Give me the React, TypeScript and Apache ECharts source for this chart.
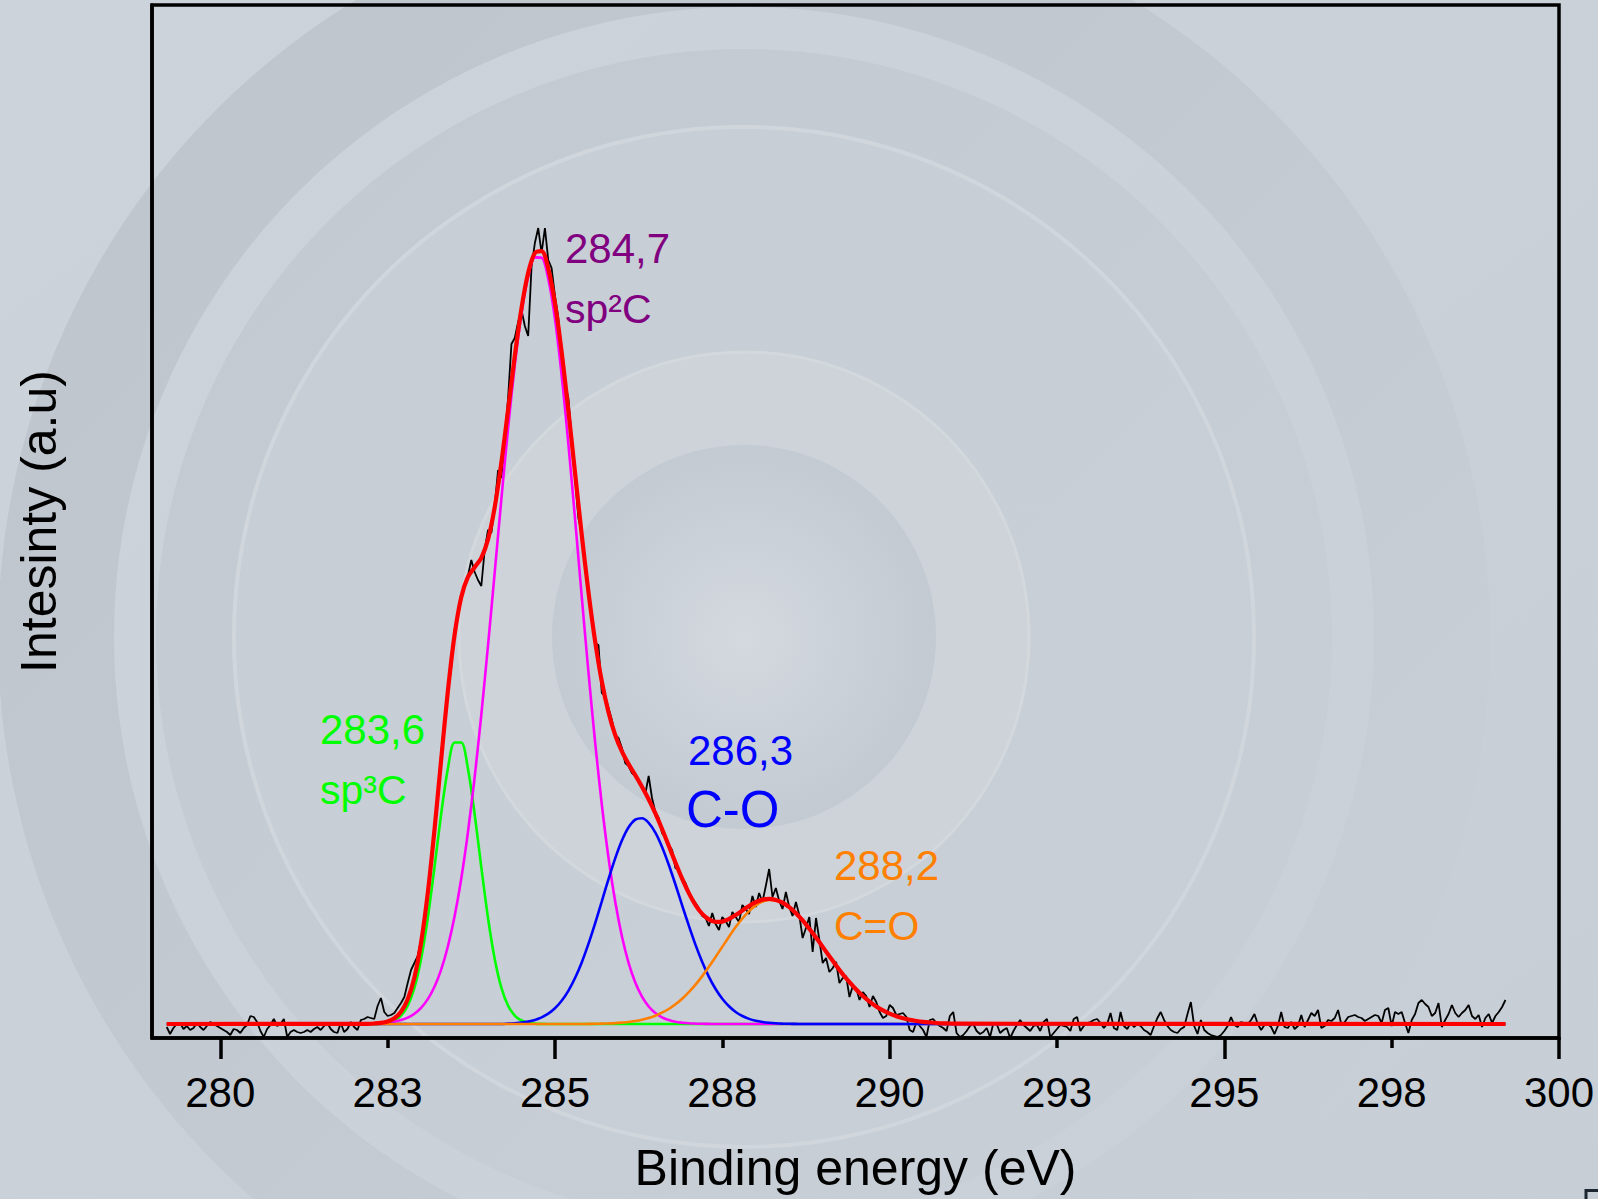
import React, { useEffect, useRef } from 'react';
import * as echarts from 'echarts';

// ---------- data ----------
const RAW_START = 279.2;
const RAW_STEP = 0.05;
const rawIntensity = [
  11,4,10,14,15,9,12,8,10,15, 11,8,12,16,14,12,10,8,6,3,
  9,8,5,10,13,22,21,16,7,1, 9,13,19,12,14,19,1,6,8,6,
  5,6,8,6,9,11,8,12,15,9, 6,5,15,6,9,16,11,8,18,19,
  21,20,19,32,40,26,22,23,25,30, 35,41,55,68,75,82,
  98,118,142,178,210,238,285,318,345,370, 408,425,440,452,462,478,466,458,452,488,
  508,505,532,568,560,600,640,694,700,716, 728,712,702,771,795,810,785,810,778,770,
  742,720,683,655,640,600,560,520,505,470, 445,418,395,393,345,342,330,318,303,300,
  290,275,272,265,262,258,250,244,262,240, 226,220,205,200,193,188,170,168,160,155,
  146,140,135,130,122,120,112,125,114,108, 121,117,111,126,121,116,133,129,124,142,
  131,145,136,152,169,141,150,137,129,146, 131,122,136,
  123,100,110,121,86,120,98,75,80,66, 70,76,55,60,62,41,52,50,38,46,
  42,31,42,36,26,20,22,33,30,23, 24,25,21,8,6,16,12,8,1,18,
  19,15,12,10,7,22,26,5,1,3, 7,12,14,7,4,6,10,1,15,14,
  5,8,10,0,7,13,18,13,10,7, 12,13,7,16,19,1,5,9,13,12,
  11,7,19,21,7,12,15,16,18,19,
  15,10,14,25,10,8,26,12,9,15, 11,14,12,8,6,3,12,20,26,18,
  12,8,6,5,9,11,24,36,12,4, 18,8,5,3,2,1,3,7,12,21,
  13,11,16,15,14,18,24,14,8,13, 14,11,4,12,26,11,10,16,9,12,
  23,11,18,25,22,28,10,12,18,17, 20,28,13,16,21,22,23,21,20,17,
  19,21,23,22,15,28,30,12,26,24, 26,15,5,18,24,35,38,34,31,22,
  25,35,11,18,24,33,25,21,25,28, 33,22,19,23,11,20,24,15,22,26,
  31,38
];

const FIT_START = 282.0;
const FIT_STEP = 0.1;
const FIT_EDGES = [279.2, 299.2];
const BASELINE = 14;

const fitSp3 = [
  14,14,14,14.1,14.4,15.3,17.5,22.4,32.3,50.2,
  79.1,120,170.7,224,269.3,295.5,295.5,269.3,224,170.7,
  120,79.1,50.2,32.3,22.4,17.5,15.3,14.4,14.1,14,
  14,14,14,14,14,14,14,14,14,14, 14,14,14,14,14,14,14,14,14,14,
  14,14,14,14,14,14,14,14,14,14, 14,14,14,14,14,14,14,14,14,14,
  14,14,14,14,14,14,14,14,14,14, 14,14,14,14,14,14,14,14,14,14,
  14
];
const fitSp2 = [
  14.1,14.1,14.2,14.4,14.7,15.3,16.3,17.9,20.4,24.3,
  30.2,38.9,51.3,68.4,91.5,121.4,159.3,205.8,260.7,323.5,
  392.6,465.6,539.3,609.8,673,724.8,761.5,780.6,780.3,759.3,
  719.1,662.7,594.4,519.3,441.6,366.1,295.9,233.5,180.3,136.5,
  101.8,75.2,55.5,41.3,31.5,24.9,20.6,17.9,16.2,15.3,
  14.7,14.4,14.2,14.1,14,14,14,14,14,14,
  14,14,14,14,14,14,14,14,14,14, 14,14,14,14,14,14,14,14,14,14,
  14,14,14,14,14,14,14,14,14,14, 14
];
const fitCO = [
  14,14,14,14,14,14,14,14,14,14, 14,14,14,14,14,14,14,14,14,14, 14,14,14,
  14.4,14.8,15.4,16.4,18,20.6,24.3,
  29.7,37.2,47.2,60,75.6,94.1,114.7,136.7,158.9,179.6,
  197.4,210.7,218.4,219.7,215.2,205.4,191.1,173.3,153.5,132.7,
  112.3,93.1,76,61.2,49,39.2,31.7,26,22,19.1,
  17.2,16,15.2,14.7,14.4,14.2,14.1,
  14,14,14,14,14,14,14,14,14,14, 14,14,14,14,14,14,14,14,14,14, 14,14,14,14
];
const fitCdO = [
  14,14,14,14,14,14,14,14,14,14, 14,14,14,14,14,14,14,14,14,14,
  14,14,14,14,14,14,14,14,14,14, 14,14,14,14,14,
  14.1,14.2,14.4,14.6,14.9,
  15.4,16,17,18.3,20,22.3,25.3,29,33.7,39.3,
  45.9,53.4,61.9,71.3,81.1,91.2,101.3,110.9,119.5,126.9,
  132.6,136.4,138,137.4,134.9,130.6,124.8,117.6,109.3,100.4,
  91.1,81.7,72.6,63.8,55.8,48.5,42,36.4,31.6,27.7,
  24.4,21.8,19.8,18.2,17,16.1,15.5,15,14.7,14.5,
  14.3
];
const fitEnvelope = [
  14.1,14.1,14.2,14.5,15.1,16.6,19.8,26.3,38.7,60.5,
  95.3,144.9,208,278.4,346.8,402.9,440.8,461.1,470.7,480.2,
  498.6,530.8,575.6,628.5,682.2,729.7,765.2,785,786.9,769.6,
  734.8,685.9,627.6,565.3,503.2,446.3,396.8,356.5,325.8,303,
  286.6,273.9,262.9,251.3,238.7,224.6,209,192.2,175.4,159.3,
  144.9,132.9,124.1,118.6,116.1,116.4,119,122.9,127.5,132,
  135.8,138.4,139.2,138.1,135.3,130.8,124.8,117.6,109.3,100.4,
  91.1,81.7,72.6,63.8,55.8,48.5,42,36.4,31.6,27.7,
  24.4,21.8,19.8,18.2,17,16.1,15.5,15,14.7,14.5,
  14.3
];

const TICK_VALUES = [280, 282.5, 285, 287.5, 290, 292.5, 295, 297.5, 300];
const TICK_LABELS = ['280', '283', '285', '288', '290', '293', '295', '298', '300'];
const MAJOR_TICKS = [280, 285, 290, 295, 300];
const MINOR_TICKS = [282.5, 287.5, 292.5, 297.5];

const PEAK_LABELS = [
  { lines: ['283,6', 'sp³C'], color: '#00ff00' },
  { lines: ['284,7', 'sp²C'], color: '#800080' },
  { lines: ['286,3', 'C-O'], color: '#0000ff' },
  { lines: ['288,2', 'C=O'], color: '#ff8000' },
];

// ---------- layout ----------
const W = 1598;
const H = 1199;
const FONT = '"Liberation Sans", Arial, Helvetica, sans-serif';
const LABEL_POS = [
  [[320, 729, 42], [320, 790, 41]],
  [[565, 248, 42], [565, 309, 41]],
  [[688, 750, 42], [686, 809, 51]],
  [[834, 865, 42], [834, 926, 41]],
];

function fitSeriesData(values: number[]) {
  const pts: number[][] = [[FIT_EDGES[0], BASELINE]];
  values.forEach((v, i) => pts.push([Math.round((FIT_START + i * FIT_STEP) * 100) / 100, v]));
  pts.push([FIT_EDGES[1], BASELINE]);
  return pts;
}

function buildOption() {
  const rawData = rawIntensity.map((v, i) => [Math.round((RAW_START + i * RAW_STEP) * 100) / 100, v]);
  const cx = 744, cy = 637;
  const lg = (stops: [number, string][]) =>
    new echarts.graphic.LinearGradient(0, 0, 1, 1, stops.map(([offset, color]) => ({ offset, color })));
  const bg: any[] = [
    { type: 'rect', shape: { x: 0, y: 0, width: W, height: H }, style: { fill: lg([[0, '#ccd3da'], [1, '#c7ced5']]) } },
    { type: 'circle', shape: { cx, cy, r: 746 }, style: { fill: lg([[0, '#bdc4cc'], [0.45, '#c2c9d1'], [0.8, '#c7ced5'], [1, '#c9d0d7']]) } },
    { type: 'circle', shape: { cx, cy, r: 630 }, style: { fill: lg([[0, '#ccd3da'], [1, '#c9d0d7']]) } },
    { type: 'circle', shape: { cx, cy, r: 588 }, style: { fill: lg([[0, '#c2c9d1'], [0.6, '#c6cdd4'], [1, '#c8cfd6']]) } },
    { type: 'circle', shape: { cx, cy, r: 510 }, style: { fill: lg([[0, '#c7ced5'], [1, '#c8cfd6']]), stroke: '#d0d6dc', lineWidth: 4 } },
    { type: 'circle', shape: { cx, cy, r: 285 }, style: { fill: '#cdd3d9', stroke: '#d3d8dd', lineWidth: 3 } },
    {
      type: 'circle', shape: { cx, cy, r: 192 },
      style: {
        fill: new echarts.graphic.RadialGradient(0.5, 0.5, 0.5, [
          { offset: 0, color: '#d4d9df' },
          { offset: 1, color: '#c3cad2' },
        ]),
      },
    },
  ].map((e) => ({ ...e, z: -10, silent: true }));

  const texts: any[] = [];
  PEAK_LABELS.forEach((p, k) => {
    p.lines.forEach((t, j) => {
      const [x, y, fs] = LABEL_POS[k][j];
      texts.push({
        type: 'text', x, y, z: 20, silent: true,
        style: { text: t, fill: p.color, fontSize: fs, fontFamily: FONT, align: 'left', verticalAlign: 'middle' },
      });
    });
  });
  texts.push({
    type: 'polyline', z: 20, silent: true,
    shape: { points: [[1586, 1199], [1586, 1190.5], [1598, 1190.5]] },
    style: { stroke: '#1c2630', lineWidth: 3, fill: 'none' },
  });

  const labelFor = (v: number) => {
    const idx = TICK_VALUES.findIndex((t) => Math.abs(t - v) < 1e-6);
    return idx >= 0 ? TICK_LABELS[idx] : '';
  };

  const comp = (name: string, values: number[], color: string, width: number) => ({
    name, type: 'line', data: fitSeriesData(values), showSymbol: false, smooth: 0.3,
    lineStyle: { color, width }, emphasis: { disabled: true }, silent: true,
  });

  return {
    animation: false,
    backgroundColor: 'transparent',
    graphic: [...bg, ...texts],
    grid: {
      left: 152, right: 39, top: 5, bottom: 161,
      show: true, borderColor: '#000', borderWidth: 3.5, backgroundColor: 'transparent', containLabel: false,
    },
    xAxis: [
      {
        type: 'value', min: 278.98, max: 300, position: 'bottom',
        axisLine: { show: true, onZero: false, lineStyle: { color: '#000', width: 3.5 } },
        axisTick: { show: true, customValues: MAJOR_TICKS, length: 21, inside: false, lineStyle: { color: '#000', width: 3.5 } },
        axisLabel: {
          show: true, customValues: TICK_VALUES, formatter: labelFor, margin: 33,
          fontSize: 42, color: '#000', fontFamily: FONT,
        },
        splitLine: { show: false },
        name: 'Binding energy (eV)', nameLocation: 'middle', nameGap: 105,
        nameTextStyle: { fontSize: 50, color: '#000', fontFamily: FONT },
      },
      {
        type: 'value', min: 278.98, max: 300, position: 'bottom',
        axisLine: { show: false },
        axisTick: { show: true, customValues: MINOR_TICKS, length: 10, inside: false, lineStyle: { color: '#000', width: 3.5 } },
        axisLabel: { show: false },
        splitLine: { show: false },
      },
    ],
    yAxis: {
      type: 'value', min: 0, max: 1033,
      axisLine: { show: true, onZero: false, lineStyle: { color: '#000', width: 3.5 } },
      axisTick: { show: false }, axisLabel: { show: false }, splitLine: { show: false },
      name: 'Intesinty (a.u)', nameLocation: 'middle', nameGap: 88, nameRotate: 90,
      nameTextStyle: { fontSize: 50, color: '#000', fontFamily: FONT },
    },
    series: [
      {
        name: 'data', type: 'line', data: rawData, showSymbol: false,
        lineStyle: { color: '#000', width: 1.8 }, emphasis: { disabled: true }, silent: true,
      },
      comp('sp3C', fitSp3, '#00ff00', 2.6),
      comp('sp2C', fitSp2, '#ff00ff', 2.6),
      comp('C-O', fitCO, '#0000ff', 2.6),
      comp('C=O', fitCdO, '#ff8000', 2.6),
      comp('envelope', fitEnvelope, '#ff0000', 4.2),
    ],
  };
}

export default function App() {
  const ref = useRef<HTMLDivElement>(null);
  useEffect(() => {
    if (!ref.current) return;
    const chart = echarts.init(ref.current, null, { renderer: 'svg' });
    chart.setOption(buildOption() as any);
    return () => chart.dispose();
  }, []);
  return <div ref={ref} style={{ position: 'absolute', left: 0, top: 0, width: W, height: H }} />;
}
